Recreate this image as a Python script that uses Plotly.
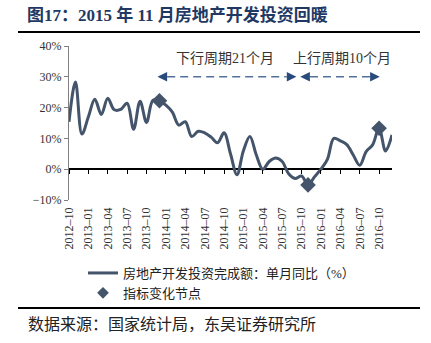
import plotly.graph_objects as go

# ---- data ----
months = []
for y in range(2012, 2017):
    for m in range(1, 13):
        if (y, m) >= (2012, 10):
            months.append(f"{y}-{m:02d}")

yoy_values = [
    15.4, 28.3, 11.4, 17.0, 22.7, 17.8, 23.0, 19.3, 19.4, 21.4,
    13.0, 22.1, 15.2, 22.4, 22.2, 20.8, 18.5, 14.3, 15.4, 10.6,
    12.3, 11.8, 10.4, 8.6, 11.8, 5.0, -1.8, 6.0, 10.6, 4.6,
    0.0, 2.5, 3.6, 2.5, -1.5, -3.0, -2.2, -5.1, -2.5, 0.0,
    3.2, 10.0, 9.2, 8.0, 4.6, 1.3, 5.7, 7.9, 13.3, 5.9,
    11.1,
]

node_months = ["2013-12", "2015-11", "2016-10"]
node_values = [yoy_values[months.index(m)] for m in node_months]

tick_months = months[::3]
tick_labels = [m.replace("-", "–") for m in tick_months]

y_ticks = [-10, 0, 10, 20, 30, 40]
y_labels = ["−10%", "0%", "10%", "20%", "30%", "40%"]

line_name = "房地产开发投资完成额：单月同比（%）"
node_name = "指标变化节点"
title_text = "图17：2015 年 11 月房地产开发投资回暖"
source_text = "数据来源：国家统计局，东吴证券研究所"
down_text = "下行周期21个月"
up_text = "上行周期10个月"

# ---- styling ----
FONT = "Liberation Serif, Noto Sans CJK SC, serif"
LINE_COLOR = "#44546A"
HEAD_COLOR = "#284B7C"
DASH_COLOR = "#52719B"

idx = list(range(len(months)))
tick_idx = [months.index(m) for m in tick_months]
node_idx = [months.index(m) for m in node_months]

fig = go.Figure()
fig.add_trace(go.Scatter(
    x=idx, y=yoy_values, mode="lines", name=line_name,
    line=dict(color=LINE_COLOR, width=3, shape="spline", smoothing=1.0),
    hoverinfo="skip",
))
fig.add_trace(go.Scatter(
    x=node_idx, y=node_values, mode="markers", name=node_name,
    marker=dict(symbol="diamond", size=12, color=LINE_COLOR),
    xaxis="x2", yaxis="y", hoverinfo="skip", showlegend=False,
))
# legend entry for the nodes (smaller symbol, as in the reference legend)
fig.add_trace(go.Scatter(
    x=[None], y=[None], mode="markers", name=node_name,
    marker=dict(symbol="diamond", size=9, color=LINE_COLOR),
    xaxis="x2", yaxis="y", hoverinfo="skip",
))

W, H = 431, 343
ml, mr, mt, mb = 69, 39, 46, 143
pw, ph = W - ml - mr, H - mt - mb


def px_x(p):
    return (p - ml) / pw


def px_y(p):
    return (H - mb - p) / ph


xr = [0, len(months) - 1]

fig.update_layout(
    width=W, height=H,
    margin=dict(l=ml, r=mr, t=mt, b=mb),
    paper_bgcolor="white", plot_bgcolor="white",
    font=dict(family=FONT, size=12, color="#333333"),
    title=dict(
        text=f"<b>{title_text}</b>",
        font=dict(family=FONT, size=17, color="#1F3864"),
        xref="container", yref="container",
        x=27 / W, xanchor="left", y=1 - 15 / H, yanchor="middle",
    ),
    xaxis=dict(
        range=xr, tickmode="array", tickvals=tick_idx, ticktext=tick_labels,
        tickangle=-90, ticks="", showline=False, showgrid=False, zeroline=False,
        tickfont=dict(family=FONT, size=12, color="#333333"),
        ticklabelstandoff=4,
    ),
    xaxis2=dict(
        overlaying="x", anchor="free", position=0.2, side="bottom",
        range=xr, tickmode="array", tickvals=tick_idx,
        ticks="outside", ticklen=4, tickcolor="black", tickwidth=1,
        showticklabels=False, showline=False, showgrid=False, zeroline=False,
    ),
    yaxis=dict(
        range=[-10, 40], tickmode="array", tickvals=y_ticks, ticktext=y_labels,
        showline=True, linecolor="#808080", linewidth=1,
        ticks="outside", ticklen=4, tickcolor="#808080",
        showgrid=False, zeroline=True, zerolinecolor="black", zerolinewidth=1.5,
        tickfont=dict(family=FONT, size=12, color="#333333"),
    ),
    legend=dict(
        orientation="v", x=px_x(83), xanchor="left", y=px_y(258), yanchor="top",
        bgcolor="rgba(0,0,0,0)", font=dict(family=FONT, size=13, color="#222222"),
        tracegroupgap=0,
    ),
    showlegend=True,
)

# horizontal rules
fig.add_shape(type="line", xref="paper", yref="paper",
              x0=px_x(18), x1=px_x(420), y0=px_y(32), y1=px_y(32),
              line=dict(color="black", width=2))
fig.add_shape(type="line", xref="paper", yref="paper",
              x0=px_x(18), x1=px_x(420), y0=px_y(308), y1=px_y(308),
              line=dict(color="black", width=2))

fig.add_annotation(text=source_text, xref="paper", yref="paper",
                   x=px_x(26), y=px_y(324), xanchor="left", yanchor="middle",
                   showarrow=False, font=dict(family=FONT, size=16, color="#222222"))

# cycle arrows
arrow_y = 30
arrows = [(13.7, 35.2), (35.8, 48.1)]
for a0, a1 in arrows:
    fig.add_shape(type="line", xref="x", yref="y", x0=a0 + 1.5, x1=a1 - 1.5,
                  y0=arrow_y, y1=arrow_y,
                  line=dict(color=DASH_COLOR, width=1.5, dash="8px,5px"))
    fig.add_annotation(x=a0, y=arrow_y, xref="x", yref="y", ax=10, ay=0,
                       text="", showarrow=True, arrowhead=2, arrowsize=1.2,
                       arrowwidth=1.6, arrowcolor=HEAD_COLOR)
    fig.add_annotation(x=a1, y=arrow_y, xref="x", yref="y", ax=-10, ay=0,
                       text="", showarrow=True, arrowhead=2, arrowsize=1.2,
                       arrowwidth=1.6, arrowcolor=HEAD_COLOR)

fig.add_annotation(text=down_text, x=24.1, y=35.9, xref="x", yref="y",
                   showarrow=False, font=dict(family=FONT, size=14, color="#333333"))
fig.add_annotation(text=up_text, x=42.2, y=35.9, xref="x", yref="y",
                   showarrow=False, font=dict(family=FONT, size=14, color="#333333"))

fig.write_html("out.html")
